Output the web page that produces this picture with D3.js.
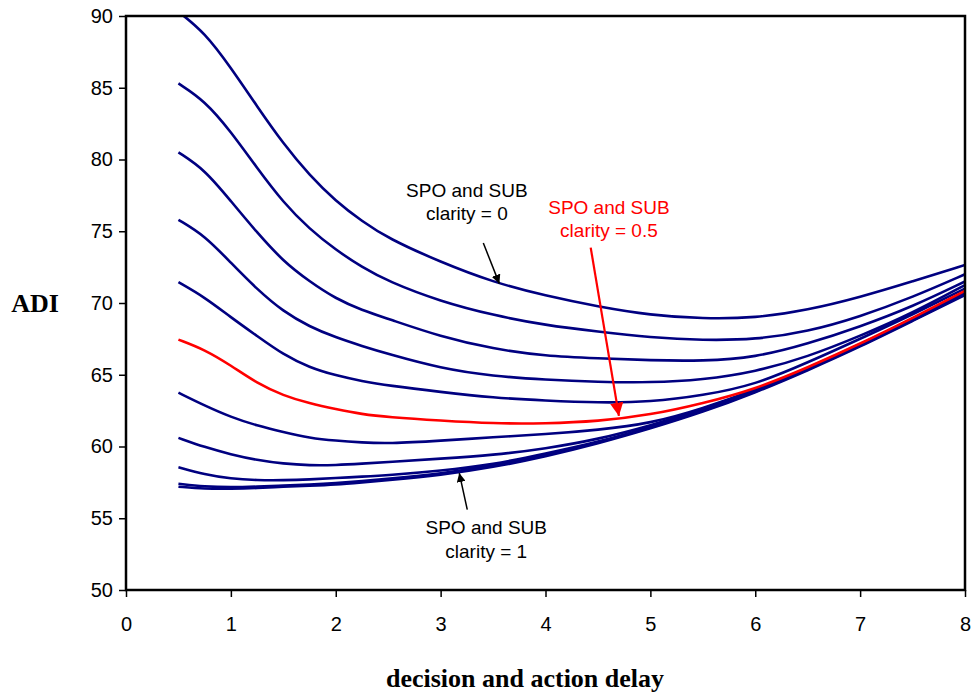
<!DOCTYPE html>
<html>
<head>
<meta charset="utf-8">
<script src="https://cdn.jsdelivr.net/npm/d3@7/dist/d3.min.js"></script>
<style>
	body { margin: 0; background: #fff; }
	svg { display: block; }
	.tick text { font-family: 'Liberation Sans', Arial, sans-serif; font-size: 20px; fill: #000; }
	.note { font-family: 'Liberation Sans', Arial, sans-serif; font-size: 19px; text-anchor: middle; }
	.title { font-family: 'Liberation Serif', 'Times New Roman', serif; font-size: 26px; font-weight: bold; }
</style>
</head>
<body>
<svg id="chart" width="976" height="694"></svg>
<script>
// decision and action delay (x values)
const delay = [0.5, 0.75, 1, 1.25, 1.5, 1.75, 2, 2.25, 2.5, 3, 3.5, 4, 4.5, 5, 5.5, 6, 6.5, 7, 7.5, 8];

// ADI per clarity level
const adi00 = [90.3, 88.85, 86.4, 83.7, 81.1, 78.9, 77.1, 75.7, 74.5, 72.85, 71.45, 70.5, 69.75, 69.15, 68.9, 68.95, 69.5, 70.4, 71.5, 72.65];
const adi01 = [85.3, 84.1, 81.95, 79.4, 77.0, 75.15, 73.7, 72.5, 71.5, 70.1, 69.15, 68.45, 68.0, 67.6, 67.4, 67.45, 68.0, 69.05, 70.4, 72.0];
const adi02 = [80.5, 79.3, 77.1, 74.9, 72.9, 71.5, 70.3, 69.5, 68.9, 67.65, 66.8, 66.3, 66.15, 66.0, 65.95, 66.2, 67.15, 68.35, 69.75, 71.5];
const adi03 = [75.8, 74.7, 72.8, 70.95, 69.4, 68.35, 67.6, 67.0, 66.45, 65.45, 64.9, 64.65, 64.5, 64.45, 64.65, 65.2, 66.25, 67.7, 69.3, 71.25];
const adi04 = [71.45, 70.4, 69.0, 67.7, 66.4, 65.5, 64.95, 64.55, 64.25, 63.8, 63.4, 63.2, 63.05, 63.1, 63.55, 64.3, 65.85, 67.5, 69.2, 71.0];
const adi05 = [67.45, 66.75, 65.65, 64.4, 63.55, 63.0, 62.6, 62.25, 62.05, 61.8, 61.6, 61.6, 61.75, 62.2, 63.0, 64.0, 65.5, 67.15, 68.95, 70.85];
const adi06 = [63.75, 62.85, 62.05, 61.45, 61.0, 60.6, 60.4, 60.28, 60.2, 60.4, 60.65, 60.85, 61.15, 61.6, 62.65, 63.95, 65.45, 67.1, 68.9, 70.75];
const adi07 = [60.6, 59.95, 59.45, 59.05, 58.8, 58.68, 58.7, 58.8, 58.92, 59.15, 59.4, 59.85, 60.5, 61.45, 62.6, 63.9, 65.42, 67.08, 68.88, 70.7];
const adi08 = [58.55, 58.05, 57.75, 57.65, 57.65, 57.7, 57.8, 57.9, 58.0, 58.3, 58.75, 59.5, 60.3, 61.35, 62.5, 63.85, 65.4, 67.05, 68.85, 70.65];
const adi09 = [57.4, 57.2, 57.15, 57.2, 57.28, 57.35, 57.45, 57.6, 57.75, 58.1, 58.65, 59.4, 60.25, 61.3, 62.45, 63.8, 65.35, 67.0, 68.8, 70.6];
const adi10 = [57.2, 57.05, 57.05, 57.1, 57.2, 57.27, 57.35, 57.5, 57.65, 58.0, 58.55, 59.3, 60.2, 61.25, 62.4, 63.75, 65.3, 66.95, 68.75, 70.55];

const clarity = [0, 0.1, 0.2, 0.3, 0.4, 0.5, 0.6, 0.7, 0.8, 0.9, 1];
const series = [adi00, adi01, adi02, adi03, adi04, adi05, adi06, adi07, adi08, adi09, adi10];

const xTicks = [0, 1, 2, 3, 4, 5, 6, 7, 8];
const yTicks = [50, 55, 60, 65, 70, 75, 80, 85, 90];

const margin = { top: 16, right: 11, bottom: 104, left: 126 };
const W = 976, H = 694;

const svg = d3.select('#chart');

const x = d3.scaleLinear().domain([0, 8]).range([margin.left, W - margin.right]);
const y = d3.scaleLinear().domain([50, 90]).range([H - margin.bottom, margin.top]);

const defs = svg.append('defs');
defs.append('clipPath')
	.attr('id', 'plot-clip')
	.append('rect')
	.attr('x', x(0))
	.attr('y', y(90))
	.attr('width', x(8) - x(0))
	.attr('height', y(50) - y(90));

// arrow heads
[['arrow-black', '#000'], ['arrow-red', '#ff0000']].forEach(([id, col]) => {
	defs.append('marker')
		.attr('id', id)
		.attr('viewBox', '0 0 10 10')
		.attr('refX', 10)
		.attr('refY', 5)
		.attr('markerWidth', 6)
		.attr('markerHeight', 6)
		.attr('markerUnits', 'strokeWidth')
		.attr('orient', 'auto')
		.append('path')
		.attr('d', 'M0,0L10,5L0,10z')
		.attr('fill', col);
});

// curves (smoothed like the spreadsheet lines)
const line = d3.line()
	.x((d, i) => x(delay[i]))
	.y(d => y(d))
	.curve(d3.curveBasis);

const lines = svg.append('g').attr('clip-path', 'url(#plot-clip)');
series.forEach((vals, i) => {
	if (clarity[i] === 0.5) return;
	lines.append('path')
		.attr('d', line(vals))
		.attr('fill', 'none')
		.attr('stroke', '#000080')
		.attr('stroke-width', 2.6);
});
// clarity 0.5 in red, on top
lines.append('path')
	.attr('d', line(adi05))
	.attr('fill', 'none')
	.attr('stroke', '#ff0000')
	.attr('stroke-width', 2.6);

// axes
const xAxis = svg.append('g')
	.attr('transform', `translate(0,${y(50)})`)
	.call(d3.axisBottom(x).tickValues(xTicks).tickSize(7).tickPadding(20).tickFormat(d3.format('d')));
const yAxis = svg.append('g')
	.attr('transform', `translate(${x(0)},0)`)
	.call(d3.axisLeft(y).tickValues(yTicks).tickSize(7).tickPadding(6).tickFormat(d3.format('d')));
[xAxis, yAxis].forEach(g => {
	g.select('.domain').remove();
	g.selectAll('.tick line').attr('stroke', '#000').attr('stroke-width', 1.5);
});

// plot frame
svg.append('rect')
	.attr('x', x(0))
	.attr('y', y(90))
	.attr('width', x(8) - x(0))
	.attr('height', y(50) - y(90))
	.attr('fill', 'none')
	.attr('stroke', '#000')
	.attr('stroke-width', 2.5);

// axis titles
svg.append('text')
	.attr('class', 'title')
	.attr('x', 525)
	.attr('y', 687)
	.attr('text-anchor', 'middle')
	.text('decision and action delay');
svg.append('text')
	.attr('class', 'title')
	.attr('x', 35)
	.attr('y', 312)
	.attr('text-anchor', 'middle')
	.text('ADI');

// annotations
const notes = [
	{ lines: ['SPO and SUB', 'clarity = 0'], cx: 3.25, base: 77.4, color: '#000', from: [3.407, 74.18], to: [3.56, 71.35], marker: 'arrow-black', w: 1.5 },
	{ lines: ['SPO and SUB', 'clarity = 0.5'], cx: 4.605, base: 76.23, color: '#ff0000', from: [4.431, 73.86], to: [4.70, 62.13], marker: 'arrow-red', w: 2.2 },
	{ lines: ['SPO and SUB', 'clarity = 1'], cx: 3.435, base: 53.88, color: '#000', from: [3.254, 55.6], to: [3.178, 58.15], marker: 'arrow-black', w: 1.5 }
];
notes.forEach(n => {
	const t = svg.append('text')
		.attr('class', 'note')
		.attr('fill', n.color);
	n.lines.forEach((s, i) => {
		t.append('tspan')
			.attr('x', x(n.cx))
			.attr('y', y(n.base) + i * 23.5)
			.text(s);
	});
	svg.append('line')
		.attr('x1', x(n.from[0]))
		.attr('y1', y(n.from[1]))
		.attr('x2', x(n.to[0]))
		.attr('y2', y(n.to[1]))
		.attr('stroke', n.color)
		.attr('stroke-width', n.w)
		.attr('marker-end', `url(#${n.marker})`);
});
</script>
</body>
</html>
